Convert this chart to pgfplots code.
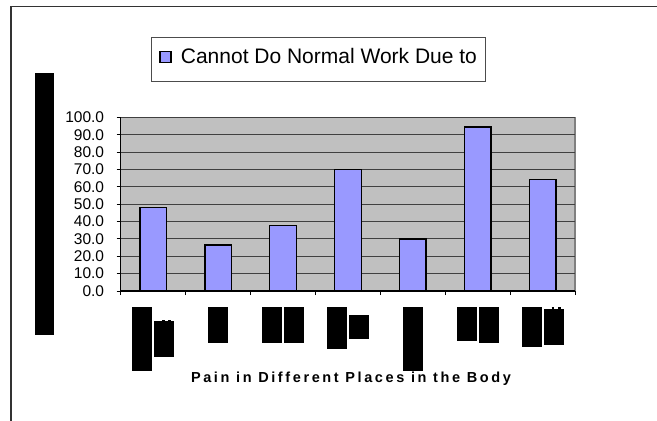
\documentclass[border=0pt]{standalone}
\usepackage{fontspec}
\setmainfont{Liberation Sans}
\newfontfamily\spacedfont[LetterSpace=18]{Liberation Sans}
\usepackage{pgfplots}
\pgfplotsset{compat=1.18}

\definecolor{barc}{HTML}{9999FF}
\definecolor{plotbg}{HTML}{C0C0C0}
\definecolor{pborder}{HTML}{808080}
\definecolor{framec}{HTML}{333333}

% black glyph boxes: width, height, offset below the top
\newcommand{\blk}[3]{\raisebox{-\dimexpr#2+#3\relax}[0pt][\dimexpr#2+#3\relax]{\rule{#1}{#2}}}
\newcommand{\twodots}[1]{\rlap{\hspace{8bp}\blk{2.5bp}{1.5bp}{#1}\hspace{3.8bp}\blk{2.5bp}{1.5bp}{#1}}}

\begin{document}
\begin{tikzpicture}
\useasboundingbox (0,0) rectangle (657bp,-421bp);
\draw[framec, line width=1.6bp] (10.8bp,-421bp) -- (10.8bp,-6.6bp) -- (657bp,-6.6bp);
\begin{axis}[
  at={(120.7bp,-291bp)}, anchor=south west,
  scale only axis, width=454.5bp, height=173.7bp,
  xmin=0.5, xmax=7.5, ymin=0, ymax=100,
  axis x line=bottom, axis y line=left,
  axis line style={-, black, line width=1.2bp},
  axis background/.style={fill=plotbg, draw=pborder, line width=1.5bp},
  ymajorgrids, major grid style={black!75, line width=1bp},
  ytick={0,10,...,100},
  xtick={0.5,1.5,...,7.5},
  xticklabels={
    {\blk{20bp}{64bp}{0bp}\hspace{2bp}\twodots{12.8bp}\blk{20bp}{35.7bp}{14.3bp}},
    {\blk{20bp}{36bp}{0bp}},
    {\blk{20bp}{36bp}{0bp}\hspace{2bp}\blk{20bp}{36bp}{0bp}},
    {\blk{20bp}{42bp}{0bp}\hspace{2bp}\blk{20bp}{23.7bp}{8.3bp}},
    {\blk{20bp}{64bp}{0bp}},
    {\blk{20bp}{34bp}{0bp}\hspace{2bp}\blk{20bp}{36bp}{0bp}},
    {\blk{20bp}{40bp}{0bp}\hspace{2bp}\twodots{0.5bp}\blk{20bp}{36bp}{2bp}},
    {}},
  tick align=outside, major tick length=4bp,
  tick style={black, line width=1bp},
  xticklabel style={anchor=north, inner sep=0pt, xshift=32.46bp, yshift=-11.7bp},
  /pgf/number format/assume math mode=true,
  yticklabel style={font=\fontsize{15.5bp}{18bp}\selectfont, inner sep=0pt, anchor=east, xshift=-12.4bp,
    /pgf/number format/fixed, /pgf/number format/fixed zerofill, /pgf/number format/precision=1},
  ylabel={\rule{262bp}{19.5bp}},
  ylabel style={at={(axis description cs:0,0.5)}, anchor=south, inner sep=0pt, yshift=66.2bp},
  xlabel={\spacedfont\bfseries Pain in Different Places in the Body},
  xlabel style={at={(axis description cs:0.5,0)}, anchor=base, inner sep=0pt, yshift=-91.7bp, xshift=3bp,
    font=\fontsize{14.5bp}{16bp}\selectfont},
  legend style={at={(axis description cs:0.0662,1.464)}, anchor=north west, draw=black!70, line width=0.8bp,
    fill=white, inner xsep=8.2bp, inner ysep=0pt, cells={anchor=base west},
    nodes={inner sep=0pt, text height=26.6bp, text depth=17.7bp},
    font=\fontsize{21bp}{25bp}\selectfont, /tikz/column sep=0pt},
]
\addplot[ybar, bar width=0.41, fill=barc, draw=black, line width=1.5bp,
  legend image code/.code={\draw[fill=barc, draw=black, line width=1.2bp] (0bp,1.3bp) rectangle (11bp,12.3bp);}]
  coordinates {(1,48) (2,26.6) (3,37.8) (4,70) (5,30) (6,94.4) (7,64.3)};
\addlegendentry{\hspace{9.3bp}Cannot Do Normal Work Due to\hspace{3.4bp}}
\end{axis}
\end{tikzpicture}
\end{document}
